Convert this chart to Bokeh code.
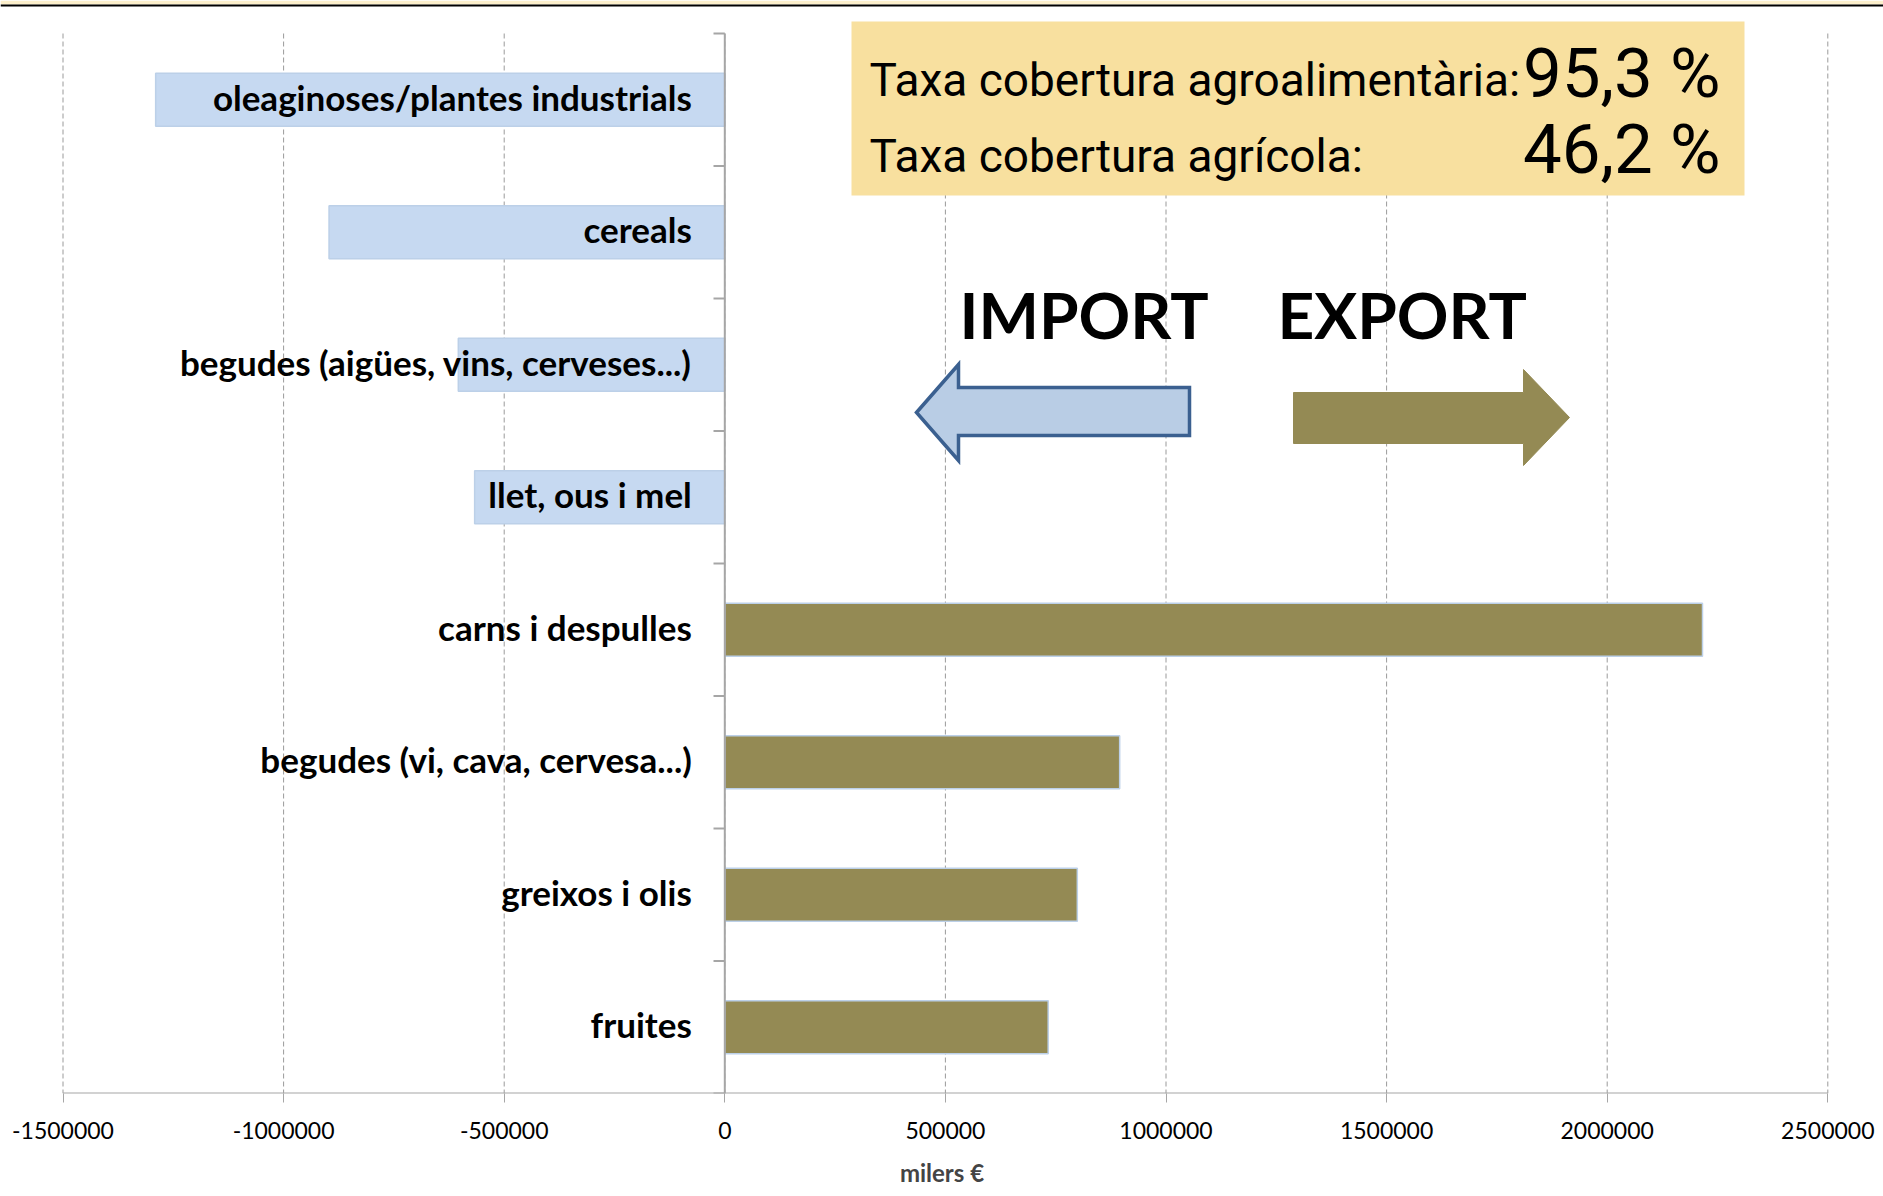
from bokeh.plotting import figure
from bokeh.models import Range1d, ColumnDataSource, Label, FixedTicker
from bokeh.core.properties import value
from bokeh.embed import file_html
from bokeh.resources import INLINE

# ---------------- data ----------------
categories = [
    "oleaginoses/plantes industrials",
    "cereals",
    "begudes (aigües, vins, cerveses...)",
    "llet, ous i mel",
    "carns i despulles",
    "begudes (vi, cava, cervesa...)",
    "greixos i olis",
    "fruites",
]
values = [-1290000, -897000, -604000, -567000, 2216000, 895000, 799000, 733000]
x_ticks = [-1500000, -1000000, -500000, 0, 500000, 1000000, 1500000, 2000000, 2500000]
x_axis_title = "milers €"
import_title = "IMPORT"
export_title = "EXPORT"
coverage_labels = ["Taxa cobertura agroalimentària:", "Taxa cobertura agrícola:"]
coverage_values = ["95,3 %", "46,2 %"]

# ---------------- geometry helpers (reference page pixels -> data) ----------------
X0_PX = 724.3
PX_PER_UNIT = 441.2 / 1e6
Y_TOP_PX = 33.0
ROW_PX = 132.5


def dx(px):
    return (px - X0_PX) / PX_PER_UNIT


def dy(py):
    return (py - Y_TOP_PX) / ROW_PX - 0.5


W, H = 1883, 1196
AXIS_PX = 1093
IMPORT_COLOR = "#C6D9F1"
EXPORT_COLOR = "#948A54"
n = len(categories)

p = figure(
    width=W, height=H,
    output_backend="svg", toolbar_location=None,
    x_range=Range1d(dx(0), dx(W)),
    y_range=Range1d(start=n - 0.5, end=dy(0)),
    y_axis_location=None,
    min_border_left=0, min_border_right=0, min_border_top=0,
    min_border_bottom=H - AXIS_PX,
)
p.outline_line_color = None
p.background_fill_color = "white"
p.border_fill_color = "white"
p.xgrid.visible = False
p.ygrid.visible = False

# top decorative strip
p.quad(left=[dx(0)], right=[dx(W)], top=[dy(0)], bottom=[dy(4)],
       fill_color="#FCEFCB", line_color=None)
p.quad(left=[dx(0)], right=[dx(W)], top=[dy(4)], bottom=[dy(6)],
       fill_color="black", line_color=None)

# dashed vertical gridlines
p.segment(x0=x_ticks, y0=[-0.5] * len(x_ticks), x1=x_ticks, y1=[n - 0.5] * len(x_ticks),
          line_color="#9A9A9A", line_width=1, line_dash="5 3")

# bars
idx = list(range(n))
src = ColumnDataSource(dict(
    y=idx,
    left=[min(v, 0) for v in values],
    right=[max(v, 0) for v in values],
    color=[IMPORT_COLOR if v < 0 else EXPORT_COLOR for v in values],
    cat=categories,
))
p.hbar(y="y", left="left", right="right", height=0.4, fill_color="color",
       line_color="#BCD0E8", line_width=1.5, source=src)

# vertical zero axis with category boundary ticks
p.segment(x0=[0], y0=[-0.5], x1=[0], y1=[n - 0.5], line_color="#A6A6A6", line_width=2)
bounds = [i - 0.5 for i in range(n + 1)]
p.segment(x0=[dx(713)] * len(bounds), y0=bounds, x1=[0] * len(bounds), y1=bounds,
          line_color="#A6A6A6", line_width=2)

# horizontal axis line spanning the tick range
p.segment(x0=[x_ticks[0]], y0=[n - 0.5], x1=[x_ticks[-1]], y1=[n - 0.5],
          line_color="#A6A6A6", line_width=2)

# category labels
p.text(x=0, y="y", text="cat", source=src, x_offset=-33, y_offset=-3,
       text_align="right", text_baseline="alphabetic",
       text_font=value("Lato"), text_font_style="bold", text_font_size="35px",
       text_color="black")

# coverage box
p.quad(left=[dx(851)], right=[dx(1744)], top=[dy(21)], bottom=[dy(195)],
       fill_color="#F8E09F", line_color=None)
for lab, val, base_l, base_v in zip(coverage_labels, coverage_values, [79.5, 155.5], [73, 149]):
    p.add_layout(Label(x=dx(869), y=dy(base_l), text=lab, text_font="Roboto",
                       text_font_size="46px", text_baseline="alphabetic",
                       text_color="black"))
    p.add_layout(Label(x=dx(1720), y=dy(base_v), text=val, text_font="Roboto",
                       text_font_size="69px", text_baseline="alphabetic",
                       text_align="right", text_color="black"))

# IMPORT / EXPORT
for t, xpx in [(import_title, 959), (export_title, 1277)]:
    p.add_layout(Label(x=dx(xpx), y=dy(313.5), text=t, text_font="Lato",
                       text_font_style="bold", text_font_size="64px",
                       text_baseline="alphabetic", text_color="black"))

# arrows
imp_x = [dx(v) for v in [916, 958, 958, 1189, 1189, 958, 958]]
imp_y = [dy(v) for v in [412, 364, 387, 387, 435, 435, 460]]
p.patch(imp_x, imp_y, fill_color="#B9CDE5", line_color="#3B6090", line_width=3.5,
        line_join="miter")
exp_x = [dx(v) for v in [1293, 1523, 1523, 1569, 1523, 1523, 1293]]
exp_y = [dy(v) for v in [392, 392, 369, 417, 465, 443, 443]]
p.patch(exp_x, exp_y, fill_color=EXPORT_COLOR, line_color=EXPORT_COLOR, line_width=1)

# x axis (ticks and labels only; line drawn above)
ax = p.xaxis[0]
ax.ticker = FixedTicker(ticks=x_ticks)
ax.major_label_overrides = {t: str(t) for t in x_ticks}
ax.axis_label = x_axis_title
ax.axis_label_text_font = "Lato"
ax.axis_label_text_font_style = "bold"
ax.axis_label_text_font_size = "24px"
ax.axis_label_standoff = 16
ax.major_label_text_font = "Lato"
ax.major_label_text_font_size = "23px"
ax.major_label_text_color = "black"
ax.major_label_standoff = 19
ax.axis_line_color = None
ax.major_tick_line_color = "#A6A6A6"
ax.major_tick_line_width = 1
ax.major_tick_out = 9
ax.major_tick_in = 0
ax.minor_tick_line_color = None

open("out.html", "w").write(file_html(p, INLINE))
